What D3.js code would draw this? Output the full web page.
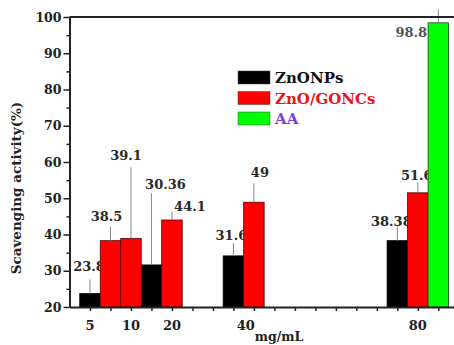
<!DOCTYPE html>
<html>
<head>
<meta charset="utf-8">
<script src="https://cdn.jsdelivr.net/npm/d3@7"></script>
<style>
  body { margin: 0; background: #fff; }
  svg { display: block; font-family: "DejaVu Serif", serif; font-weight: bold; }
</style>
</head>
<body>
<svg id="chart" width="454" height="345"></svg>
<script>
// concentration tick labels, placed on the bar slot axis
const xTickSlots = [1, 3, 5, 8.6, 17];
const xTickLabels = ['5', '10', '20', '40', '80'];
const yTicks = [20, 30, 40, 50, 60, 70, 80, 90, 100];

// ZnONPs
const znoSlots = [1, 4, 8, 16];
const znoValues = [23.7, 31.6, 34.1, 38.3];
const znoErrTop = [27.6, 51.4, 37.6, 42.3];
const znoLabels = ['23.8', '30.36', '31.6', '38.38'];

// ZnO/GONCs
const gonSlots = [2, 3, 5, 9, 17];
const gonValues = [38.3, 38.9, 44.0, 48.9, 51.5];
const gonErrTop = [42.1, 58.5, 46.3, 54.1, 54.4];
const gonLabels = ['38.5', '39.1', '44.1', '49', '51.6'];

// AA
const aaSlots = [18];
const aaValues = [98.4];
const aaErrTop = [102.1];
const aaLabels = ['98.8'];

const seriesNames = ['ZnONPs', 'ZnO/GONCs', 'AA'];

// label nudges in px (dx from bar centre, dy above error bar top)
const znoNudge = [[-1, 8], [14, 4], [-2, 3], [-6, 0]];
const gonNudge = [[-4, 6], [-5, 7], [18, 1], [6, 6], [-1, 2]];
const aaNudge = [[-27, -28]];

const svg = d3.select('#chart');

const x = d3.scaleLinear().domain([0, 18.75]).range([69.5, 453.7]);
const y = d3.scaleLinear().domain([20, 100]).range([307, 17]);
const bw = x(1) - x(0);

const series = [
  { slots: znoSlots, values: znoValues, err: znoErrTop, labels: znoLabels, nudge: znoNudge, fill: '#000', stroke: '#000' },
  { slots: gonSlots, values: gonValues, err: gonErrTop, labels: gonLabels, nudge: gonNudge, fill: '#ff0000', stroke: '#5a0000' },
  { slots: aaSlots, values: aaValues, err: aaErrTop, labels: aaLabels, nudge: aaNudge, fill: '#00ff00', stroke: '#1a4a1a' }
];

// bars
series.forEach(s => {
  const rows = s.slots.map((d, i) => ({ slot: d, v: s.values[i], e: s.err[i], t: s.labels[i], n: s.nudge[i] }));
  svg.append('g').selectAll('rect')
    .data(rows)
    .enter().append('rect')
    .attr('x', d => x(d.slot - 0.5))
    .attr('y', d => y(d.v))
    .attr('width', bw)
    .attr('height', d => y(20) - y(d.v))
    .attr('fill', s.fill)
    .attr('stroke', s.stroke)
    .attr('stroke-width', 0.8);

  svg.append('g').selectAll('line')
    .data(rows)
    .enter().append('line')
    .attr('x1', d => x(d.slot))
    .attr('x2', d => x(d.slot))
    .attr('y1', d => y(d.v))
    .attr('y2', d => y(d.e))
    .attr('stroke', '#888')
    .attr('stroke-width', 1);

  svg.append('g').selectAll('text')
    .data(rows)
    .enter().append('text')
    .attr('x', d => x(d.slot) + d.n[0])
    .attr('y', d => y(d.e) - d.n[1])
    .attr('text-anchor', 'middle')
    .attr('font-size', 13)
    .attr('fill', d => d.slot === 18 ? '#555' : '#2a2a2a')
    .text(d => d.t);
});

// y axis
const yAxis = svg.append('g')
  .attr('transform', `translate(${x(0)},0)`)
  .call(d3.axisLeft(y).tickValues(yTicks).tickSize(6).tickPadding(2).tickSizeOuter(0));
yAxis.select('.domain').attr('stroke-width', 2).attr('stroke', '#222');
yAxis.selectAll('.tick line').attr('stroke-width', 1.5).attr('stroke', '#222');
yAxis.selectAll('.tick text')
  .attr('font-size', 12.5).attr('font-family', 'DejaVu Serif').attr('font-weight', 'bold').attr('fill', '#222');

svg.append('g')
  .attr('transform', `translate(${x(0)},0)`)
  .call(d3.axisLeft(y).tickValues(d3.range(25, 100, 10)).tickSize(3).tickFormat(''))
  .call(g => g.select('.domain').remove())
  .selectAll('line').attr('stroke', '#222').attr('stroke-width', 1.5);

// x axis: a tick per slot, labels only on concentrations
const xAxis = svg.append('g')
  .attr('transform', `translate(0,${y(20)})`)
  .call(d3.axisBottom(x).tickValues(d3.range(1, 19)).tickSize(4).tickFormat('').tickSizeOuter(0));
xAxis.select('.domain').attr('stroke-width', 2).attr('stroke', '#222');
xAxis.selectAll('.tick line').attr('stroke-width', 1.5).attr('stroke', '#222');

svg.append('g').selectAll('text')
  .data(xTickSlots)
  .enter().append('text')
  .attr('x', d => x(d))
  .attr('y', 330)
  .attr('text-anchor', 'middle')
  .attr('font-size', 13)
  .attr('fill', '#222')
  .text((d, i) => xTickLabels[i]);

// top frame line
svg.append('line')
  .attr('x1', x(0)).attr('x2', 454)
  .attr('y1', y(100)).attr('y2', y(100))
  .attr('stroke', '#222').attr('stroke-width', 2);

// axis titles
svg.append('text')
  .attr('transform', 'translate(21,188) rotate(-90)')
  .attr('text-anchor', 'middle')
  .attr('font-size', 13.5)
  .attr('fill', '#222')
  .text('Scavenging activity(%)');

svg.append('text')
  .attr('x', 279)
  .attr('y', 341)
  .attr('text-anchor', 'middle')
  .attr('font-size', 12.5)
  .attr('fill', '#222')
  .text('mg/mL');

// legend
const legendColors = ['#000', '#ff0000', '#00ff00'];
const legendText = ['#111', '#e8141c', '#7b3fe0'];
const legend = svg.append('g').attr('transform', 'translate(238,71)');
seriesNames.forEach((name, i) => {
  legend.append('rect')
    .attr('x', 0).attr('y', i * 20.5)
    .attr('width', 32).attr('height', 13)
    .attr('fill', legendColors[i])
    .attr('stroke', '#444').attr('stroke-width', 0.5);
  legend.append('text')
    .attr('x', 37).attr('y', i * 20.5 + 12)
    .attr('font-size', 15)
    .attr('fill', legendText[i])
    .text(name);
});
</script>
</body>
</html>
